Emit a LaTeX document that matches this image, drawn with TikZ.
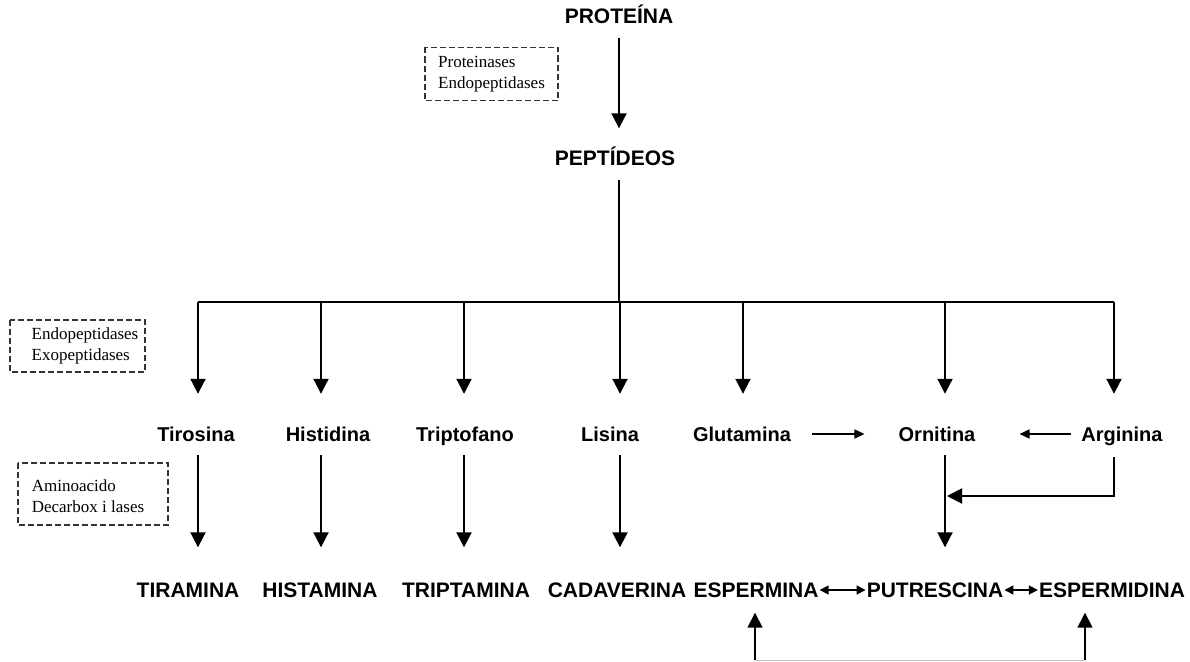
\documentclass[tikz,border=0pt]{standalone}
\usepackage{fontspec}
\setmainfont{Liberation Serif}
\setsansfont{Liberation Sans}
\usetikzlibrary{arrows.meta,calc}
\tikzset{
  big/.style={font=\sffamily\bfseries\fontsize{21}{24}\selectfont, inner sep=0pt, text height=15pt, text depth=0pt},
  mid/.style={font=\sffamily\bfseries\fontsize{20}{23}\selectfont, inner sep=0pt, text height=14pt, text depth=0pt},
  enz/.style={inner sep=0pt, font=\rmfamily\fontsize{17}{20.5}\selectfont, align=left},
  dbox/.style={draw=black!80, dash pattern=on 6pt off 3pt, line width=1.7pt},
  conn/.style={line width=2pt},
  arr/.style={line width=2pt, -{Triangle[length=15pt,width=15pt]}},
  sarr/.style={line width=1.5pt, -{Triangle[length=10pt,width=9pt]}},
  darr/.style={line width=1.5pt, {Triangle[length=9pt,width=9pt]}-{Triangle[length=9pt,width=9pt]}},
}
\begin{document}
\begin{tikzpicture}[x=1pt,y=-1pt]
\useasboundingbox (0,0) rectangle (1190,661);

% top
\node[big] (prot) at (619,16) {PROTEÍNA};
\node[big] (pep) at (615,158) {PEPTÍDEOS};

% enzyme boxes
\node[enz] (e1) at (491.5,74) {Proteinases\\Endopeptidases};
\draw[dbox] ($(e1.center)+(-66.5,-26.5)$) rectangle ($(e1.center)+(66.5,26.5)$);
\node[enz] (e2) at (85,346) {Endopeptidases\\Exopeptidases};
\draw[dbox] ($(e2.center)+(-75,-26)$) rectangle ($(e2.center)+(60,26)$);
\node[enz] (e3) at (88,496) {Aminoacido\\Decarbox i lases};
\draw[dbox] ($(e3.center)+(-70,-33)$) rectangle ($(e3.center)+(80,29)$);

\coordinate (fork) at (619,302);
\coordinate (c1) at (198,302);
\coordinate (c2) at (321,302);
\coordinate (c3) at (464,302);
\coordinate (c4) at (620,302);
\coordinate (c5) at (743,302);
\coordinate (c6) at (945,302);
\coordinate (c7) at (1114,302);

\draw[arr, shorten <=14pt, shorten >=22pt] (fork |- prot.south) -- (fork |- pep.north);
\draw[conn, shorten <=14pt] (fork |- pep.south) -- (fork);
\draw[conn] (c1) -- (c7);

% row 2
\node[mid] (tir) at (196,434) {Tirosina};
\node[mid] (his) at (328,434) {Histidina};
\node[mid] (tri) at (465,434) {Triptofano};
\node[mid] (lis) at (610,434) {Lisina};
\node[mid] (glu) at (742,434) {Glutamina};
\node[mid] (orn) at (937,434) {Ornitina};
\node[mid] (arg) at (1122,434) {Arginina};

\foreach \c/\n in {c1/tir,c2/his,c3/tri,c4/lis,c5/glu,c6/orn,c7/arg}
  \draw[arr, shorten >=33pt] (\c) -- (\c |- \n.north);

\draw[sarr, shorten <=21pt, shorten >=34pt] (glu.east) -- (orn.west);
\draw[sarr, shorten <=10pt, shorten >=44pt] (arg.west) -- (orn.east);

% row 3
\node[big] (tira) at (188,590) {TIRAMINA};
\node[big] (hist) at (320,590) {HISTAMINA};
\node[big] (trip) at (466,590) {TRIPTAMINA};
\node[big] (cad) at (617,590) {CADAVERINA};
\node[big] (esp) at (756,590) {ESPERMINA};
\node[big] (put) at (935,590) {PUTRESCINA};
\node[big] (espd) at (1112,590) {ESPERMIDINA};

\draw[arr, shorten <=14pt, shorten >=35pt] (c1 |- tir.south) -- (c1 |- tira.north);
\draw[arr, shorten <=14pt, shorten >=35pt] (c2 |- his.south) -- (c2 |- hist.north);
\draw[arr, shorten <=14pt, shorten >=35pt] (c3 |- tri.south) -- (c3 |- trip.north);
\draw[arr, shorten <=14pt, shorten >=35pt] (c4 |- lis.south) -- (c4 |- cad.north);
\draw[arr, shorten <=14pt, shorten >=35pt] (c6 |- orn.south) -- (c6 |- put.north);

\coordinate (jn) at (947,496);
\draw[arr, shorten <=16pt] (c7 |- arg.south) -- (c7 |- jn) -- (jn);

\draw[darr, shorten <=1pt, shorten >=1pt] (esp.east) -- (put.west);
\draw[darr, shorten <=1pt, shorten >=1pt] (put.east) -- (espd.west);

% bottom
\coordinate (bl) at (755,660);
\coordinate (br) at (1085,660);
\draw[line width=1pt, black!25] (bl) -- (br);
\draw[arr, line width=1.6pt, shorten >=15pt] (bl) -- (bl |- esp.south);
\draw[arr, line width=1.6pt, shorten >=15pt] (br) -- (br |- espd.south);
\end{tikzpicture}
\end{document}
